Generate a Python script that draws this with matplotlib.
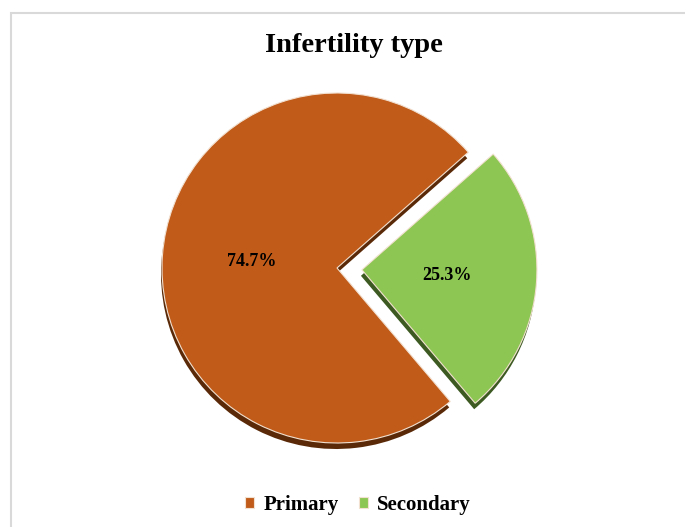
import matplotlib.pyplot as plt
from matplotlib.patches import Rectangle

categorias = ['Primary', 'Secondary']
porcentajes = [74.7, 25.3]
colores = ['#C05B19', '#8DC653']
colores_sombra = ['#5A2A08', '#3D5A22']
separacion = [0, 25]  # en unidades de datos (px)

fig = plt.figure(figsize=(6.85, 5.27), dpi=100)
ax = fig.add_axes([0, 0, 1, 1])

# marco gris claro
fig.patches.append(Rectangle((11 / 685, -0.1), 1.2, (527 - 13) / 527 + 0.1,
                             transform=fig.transFigure, fill=False,
                             edgecolor='#D9D9D9', linewidth=1.5))

centro = (337, 527 - 268)
radio = 175

# sombra (efecto 3D)
ax.pie(porcentajes, colors=colores_sombra, startangle=41.4, explode=separacion,
       center=(centro[0] - 1, centro[1] - 6), radius=radio, frame=True,
       wedgeprops=dict(linewidth=0))

# grafica de torta
cunas, _, textos = ax.pie(porcentajes, colors=colores, startangle=41.4,
                          explode=separacion, center=centro, radius=radio,
                          frame=True, autopct='%1.1f%%', pctdistance=0.49,
                          wedgeprops=dict(linewidth=0.8, edgecolor='#F2E0D0'),
                          textprops=dict(family='Liberation Serif',
                                         fontweight='bold', fontsize=13))
ax.set_xlim(0, 685)
ax.set_ylim(0, 527)
ax.set_aspect('equal')
ax.axis('off')

fig.text(354 / 685, 1 - 45 / 527, 'Infertility type', ha='center', va='center',
         family='Liberation Serif', fontweight='bold', fontsize=20.5)

ax.legend(cunas, categorias, loc='center', bbox_to_anchor=(358 / 685, 1 - 505 / 527),
          bbox_transform=fig.transFigure, ncol=2, frameon=False,
          handlelength=0.45, handleheight=0.45, handletextpad=0.45, columnspacing=0.95,
          prop=dict(family='Liberation Serif', weight='bold', size=15))

fig.savefig('out.png', dpi=100)
